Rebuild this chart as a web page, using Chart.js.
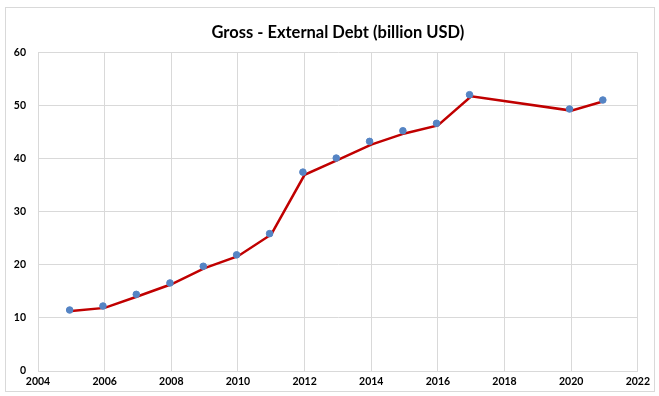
<!DOCTYPE html>
<html>
<head>
<meta charset="utf-8">
<script src="https://cdn.jsdelivr.net/npm/chart.js@4/dist/chart.umd.min.js"></script>
<style>
    body { margin: 0; background: #fff; }
    #box {
        position: absolute; left: 5px; top: 7px;
        width: 648px; height: 383px;
        border: 1px solid #d9d9d9;
    }
</style>
</head>
<body>
<div id="box"><canvas id="chart" width="648" height="383"></canvas></div>
<script>
// Line (red) values by year
const years = [2005, 2006, 2007, 2008, 2009, 2010, 2011, 2012, 2013, 2014, 2015, 2016, 2017, 2020, 2021];
const debt = [11.3, 11.9, 14.1, 16.35, 19.4, 21.65, 25.75, 37.0, 39.8, 42.7, 44.8, 46.3, 51.8, 49.1, 50.9];

// Marker (blue) points, sit a little off the line in the picture
const dotYears = [2004.95, 2005.95, 2006.95, 2007.96, 2008.96, 2009.96, 2010.95, 2011.95, 2012.95, 2013.95, 2014.95, 2015.96, 2016.95, 2019.95, 2020.95];
const dotDebt = [11.5, 12.25, 14.45, 16.6, 19.75, 21.9, 25.9, 37.5, 40.15, 43.3, 45.3, 46.7, 52.1, 49.4, 51.1];

const xTicks = [2004, 2006, 2008, 2010, 2012, 2014, 2016, 2018, 2020, 2022];
const yTicks = [0, 10, 20, 30, 40, 50, 60];

const tickFont = { family: 'Lato', size: 10.5, weight: 'bold' };
const gridColor = '#d9d9d9';

const ctx = document.getElementById('chart').getContext('2d');

new Chart(ctx, {
    type: 'scatter',
    data: {
        datasets: [
            {
                label: 'Line',
                data: years.map((y, i) => ({ x: y, y: debt[i] })),
                showLine: true,
                borderColor: '#c00000',
                borderWidth: 2.5,
                pointRadius: 0,
                order: 2,
            },
            {
                label: 'Points',
                data: dotYears.map((y, i) => ({ x: y, y: dotDebt[i] })),
                showLine: false,
                backgroundColor: '#5584c4',
                borderColor: '#5584c4',
                pointRadius: 3.3,
                order: 1,
            },
        ],
    },
    options: {
        responsive: false,
        animation: false,
        layout: { padding: { top: 0, right: 10, bottom: 0, left: 0 } },
        plugins: {
            legend: { display: false },
            tooltip: { enabled: false },
            title: {
                display: true,
                fullSize: false,
                text: 'Gross - External Debt (billion USD)',
                color: '#000',
                font: { family: 'Lato', size: 16.5, weight: 'bold' },
                padding: { top: 15, bottom: 10 },
            },
        },
        scales: {
            x: {
                type: 'linear',
                min: xTicks[0],
                max: xTicks[xTicks.length - 1],
                afterBuildTicks: s => { s.ticks = xTicks.map(v => ({ value: v })); },
                afterFit: s => { s.height = 20; },
                ticks: {
                    color: '#000',
                    font: tickFont,
                    padding: 4,
                    maxRotation: 0,
                    callback: v => String(v),
                },
                grid: { color: gridColor, drawTicks: false },
                border: { color: gridColor },
            },
            y: {
                min: yTicks[0],
                max: yTicks[yTicks.length - 1],
                afterBuildTicks: s => { s.ticks = yTicks.map(v => ({ value: v })); },
                afterFit: s => { s.width = 32; },
                ticks: {
                    color: '#000',
                    font: tickFont,
                    padding: 12,
                },
                grid: { color: gridColor, drawTicks: false },
                border: { color: gridColor },
            },
        },
    },
});
</script>
</body>
</html>
